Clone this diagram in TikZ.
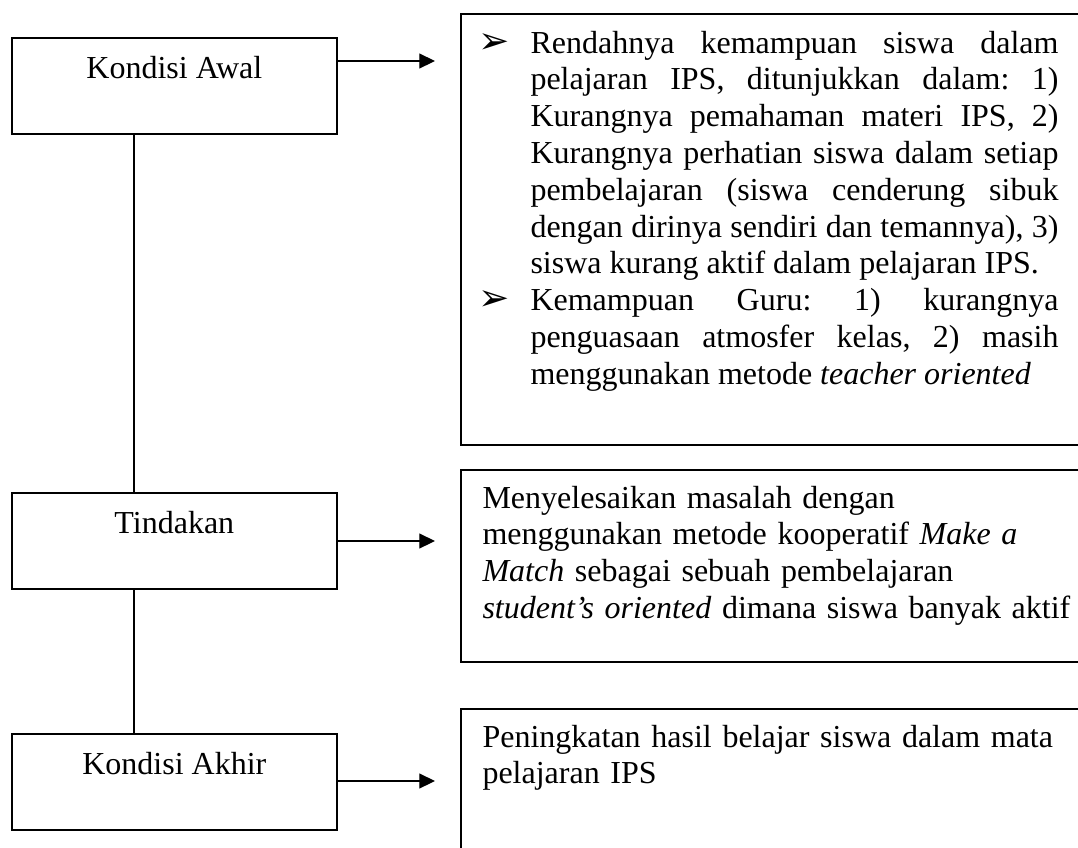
\documentclass[tikz,border=0pt]{standalone}
\usepackage{fontspec}
\setmainfont{Liberation Serif}
\newfontfamily\panahfont{DejaVu Sans}
\usepackage{tikz}
\usetikzlibrary{arrows.meta}
\usetikzlibrary{calc}
\usetikzlibrary{positioning}
\hyphenpenalty=10000
\exhyphenpenalty=10000
\frenchspacing
\newcommand{\butir}{\leavevmode\llap{\makebox[19.6pt][l]{\panahfont\fontsize{14}{14}\selectfont ➢}}}

\begin{document}
\begin{tikzpicture}[x=0.375pt, y=-0.375pt,
    kotak/.style={draw, line width=0.6pt, inner sep=0pt, anchor=north west, minimum width=121.9pt, text height=15.4pt, text depth=20.6pt, font=\fontsize{12}{13.8}\selectfont},
    bingkai/.style={draw, line width=0.6pt, inner sep=0pt, anchor=north west, minimum width=250pt},
    isi/.style={inner sep=0pt, anchor=base west, font=\fontsize{12}{13.8}\selectfont},
    panah/.style={line width=0.5pt, -{Triangle[length=5.9pt, width=5.6pt]}},
    garis/.style={line width=0.45pt}]
    % page frame (right boxes run off the edge)
    \useasboundingbox (0,0) rectangle (1078,847);
    \clip (0,0) rectangle (1078,847);

    % Left column
    \node[kotak] (awal) at (11,37) {Kondisi Awal};
    \node[kotak] (tindakan) at (11,492) {Tindakan};
    \node[kotak] (akhir) at (11,733) {Kondisi Akhir};

    % Right column frames
    \node[bingkai, minimum height=161.6pt] (masalah) at (460,13) {};
    \node[bingkai, minimum height=72pt] (solusi) at (460,469) {};
    \node[bingkai, minimum height=64.5pt] (hasil) at (460,708) {};

    % Texts of the right column
    \node[isi, text width=198pt, align=justify] (teksmasalah) at ($(masalah.north west)+(70,40)$)
      {\butir Rendahnya kemampuan siswa dalam\linebreak pelajaran IPS, ditunjukkan dalam: 1)\linebreak Kurangnya pemahaman materi IPS, 2)\linebreak Kurangnya perhatian siswa dalam setiap\linebreak pembelajaran (siswa cenderung sibuk\linebreak dengan dirinya sendiri dan temannya), 3)\linebreak siswa kurang aktif dalam pelajaran IPS.\par
       \butir Kemampuan Guru: 1) kurangnya\linebreak penguasaan atmosfer kelas, 2) masih\linebreak menggunakan metode \textit{teacher oriented}};
    \node[isi, text width=230pt, align=left] (tekssolusi) at ($(solusi.north west)+(22,39)$)
      {Menyelesaikan masalah dengan\\ menggunakan metode kooperatif \textit{Make a}\\ \textit{Match} sebagai sebuah pembelajaran\\ \textit{student's oriented} dimana siswa banyak aktif};
    \node[isi, text width=230pt, align=left] (tekshasil) at ($(hasil.north west)+(22,39)$)
      {Peningkatan hasil belajar siswa dalam mata\\ pelajaran IPS};

    % Arrows to the right
    \coordinate (ujung1) at (435,61);
    \coordinate (ujung2) at (435,541);
    \coordinate (ujung3) at (435,781);
    \draw[panah] (awal.east |- ujung1) -- (ujung1);
    \draw[panah] (tindakan.east |- ujung2) -- (ujung2);
    \draw[panah] (akhir.east |- ujung3) -- (ujung3);

    % Vertical links
    \draw[garis] ($(awal.south west)+(123,0)$) -- ($(tindakan.north west)+(123,0)$);
    \draw[garis] ($(tindakan.south west)+(123,0)$) -- ($(akhir.north west)+(123,0)$);
\end{tikzpicture}
\end{document}
